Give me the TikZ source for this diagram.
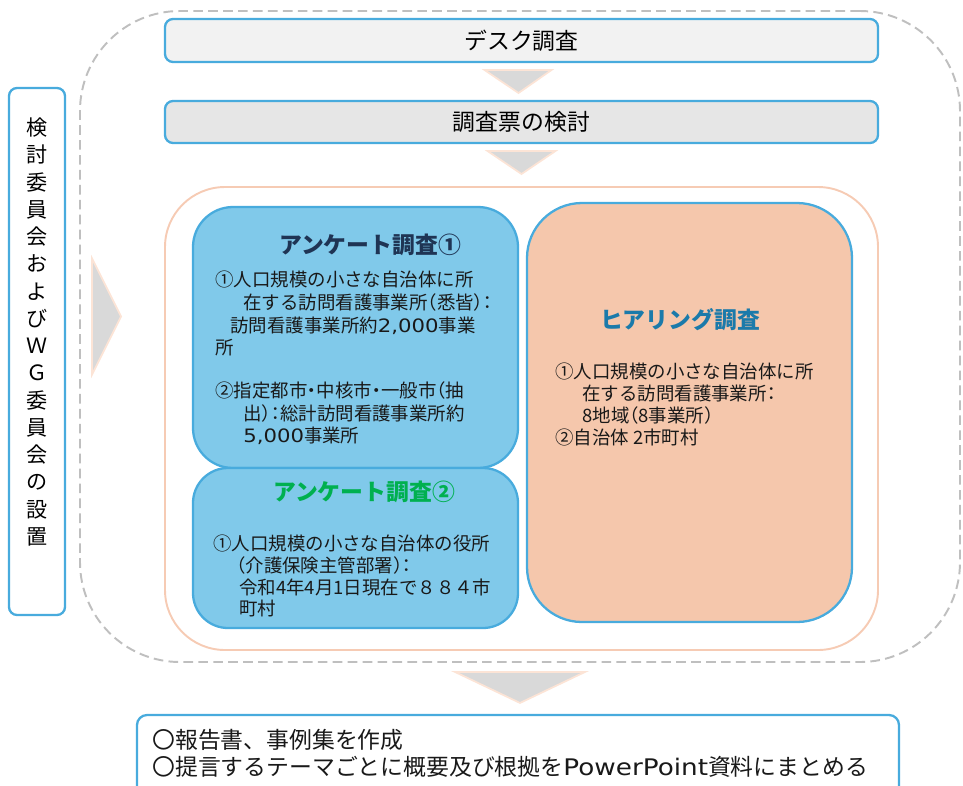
\documentclass[tikz,border=0pt]{standalone}
\usepackage{fontspec}
\newfontfamily\jp{Noto Sans CJK JP}
\newfontfamily\latfont{DejaVu Sans}
\newcommand\hw[1]{{\addfontfeature{RawFeature=+halt}#1}}
\newcommand\lat[1]{\scalebox{1.15}[1]{\latfont #1}}
\usetikzlibrary{positioning,fit,calc}
\definecolor{boxblue}{RGB}{72,171,221}
\definecolor{deskfill}{RGB}{242,242,242}
\definecolor{formfill}{RGB}{230,230,230}
\definecolor{qfill}{RGB}{128,201,234}
\definecolor{hfill}{RGB}{245,199,172}
\definecolor{contorange}{RGB}{246,203,180}
\definecolor{dashgray}{RGB}{191,191,191}
\definecolor{arrowgray}{RGB}{217,217,217}
\definecolor{arrowedge}{RGB}{252,228,214}
\definecolor{titlenavy}{RGB}{31,52,84}
\definecolor{titlegreen}{RGB}{0,176,80}
\definecolor{titleteal}{RGB}{27,122,170}
\begin{document}
\begin{tikzpicture}[x=0.02cm, y=-0.02cm, font=\jp,
    panel/.style={draw=boxblue, line width=1.3pt, rounded corners=0.16cm, inner sep=0pt, outer sep=0pt},
    chevron/.style={fill=arrowgray, draw=arrowedge, line width=1pt},
    steplabel/.style={inner sep=0pt, font=\jp\fontsize{13}{15}\selectfont},
    heading/.style={inner sep=0pt, font=\jp\fontsize{13}{15}\selectfont\bfseries},
    body/.style={align=left, anchor=north west, inner sep=0pt, text=black!90}]
  \clip (0,0) rectangle (963,785);

  % Outer frame and container
  \node[draw=dashgray, dashed, line width=1.1pt, rounded corners=2cm, inner sep=0pt,
        dash pattern=on 5.5pt off 3pt, fit={(80,11) (960,662)}] (outer) {};
  \node[draw=contorange, line width=1.1pt, rounded corners=1.2cm, inner sep=0pt,
        fit={(165,187) (878,650)}] (cont) {};

  % Committee
  \node[panel, fill=white, fit={(9,88) (65,615)}] (wg) {};
  \node[inner sep=0pt, align=center, font=\jp\fontsize{12}{15.5}\selectfont] (wgtext) at (37,332)
    {検\\討\\委\\員\\会\\お\\よ\\び\\Ｗ\\Ｇ\\委\\員\\会\\の\\設\\置};

  % Steps
  \node[panel, fill=deskfill, fit={(165,19) (878,62)}] (desk) {};
  \node[panel, fill=formfill, fit={(165,101) (878,143)}] (form) {};
  \node[steplabel] (desklabel) at (desk.center) {デスク調査};
  \node[steplabel] (formlabel) at (form.center) {調査票の検討};

  % Survey boxes
  \node[panel, fill=qfill, rounded corners=0.8cm, fit={(193,207) (518,468)}] (q1) {};
  \node[panel, fill=qfill, rounded corners=0.7cm, fit={(193,468) (518,628)}] (q2) {};
  \node[panel, fill=hfill, rounded corners=1.1cm, fit={(527,203) (852,622)}] (hear) {};

  \node[heading, text=titlenavy] (q1title) at (370,245) {アンケート調査①};
  \node[heading, text=titlegreen] (q2title) at (364,492) {アンケート調査②};
  \node[heading, text=titleteal] (heartitle) at (680,320) {ヒアリング調査};

  \node[body, font=\jp\fontsize{10.5}{12.9}\selectfont] (q1text) at (215,271)
    {①人口規模の小さな自治体に所\\
     \hspace*{0.56cm}在する訪問看護事業所\hw{（}悉皆\hw{）：}\\
     \hspace*{0.3cm}訪問看護事業所約\lat{2,000}事業\\
     所\\[11.4pt]
     ②指定都市\hw{・}中核市\hw{・}一般市\hw{（}抽\\
     \hspace*{0.56cm}出\hw{）：}総計訪問看護事業所約\\
     \hspace*{0.56cm}\lat{5,000}事業所};
  \node[body, font=\jp\fontsize{10.5}{12.3}\selectfont] (q2text) at (213,535)
    {①人口規模の小さな自治体の役所\\
     \hspace*{0.46cm}\hw{（}介護保険主管部署\hw{）：}\\
     \hspace*{0.52cm}令和4年4月1日現在で８８４市\\
     \hspace*{0.52cm}町村};
  \node[body, font=\jp\fontsize{10.5}{12.5}\selectfont] (heartext) at (555,363)
    {①人口規模の小さな自治体に所\\
     \hspace*{0.54cm}在する訪問看護事業所\hw{：}\\
     \hspace*{0.54cm}8地域\hw{（}8事業所\hw{）}\\
     ②自治体 2市町村};

  % Result
  \node[panel, fill=white, rounded corners=0.2cm, fit={(137,715) (899,805)}] (result) {};
  \node[body, font=\jp\fontsize{13}{15.3}\selectfont] (restext) at (152,729)
    {〇報告書、事例集を作成\\
     〇提言するテーマごとに概要及び根拠を\lat{PowerPoint}資料にまとめる};

  % Arrows
  \draw[chevron] ($(desk.south)+(-37,8)$) -- ($(desk.south)+(30,8)$) -- ($(desk.south)+(-3,31)$) -- cycle;
  \draw[chevron] ($(form.south)+(-34,8)$) -- ($(form.south)+(34,8)$) -- ($(form.south)+(0,31)$) -- cycle;
  \draw[chevron] ($(outer.south)+(-65,9)$) -- ($(outer.south)+(65,9)$) -- ($(outer.south)+(0,40)$) -- cycle;
  \draw[chevron] ($(outer.west)+(13,-78)$) -- ($(outer.west)+(13,38)$) -- ($(outer.west)+(42,-20)$) -- cycle;
\end{tikzpicture}
\end{document}
